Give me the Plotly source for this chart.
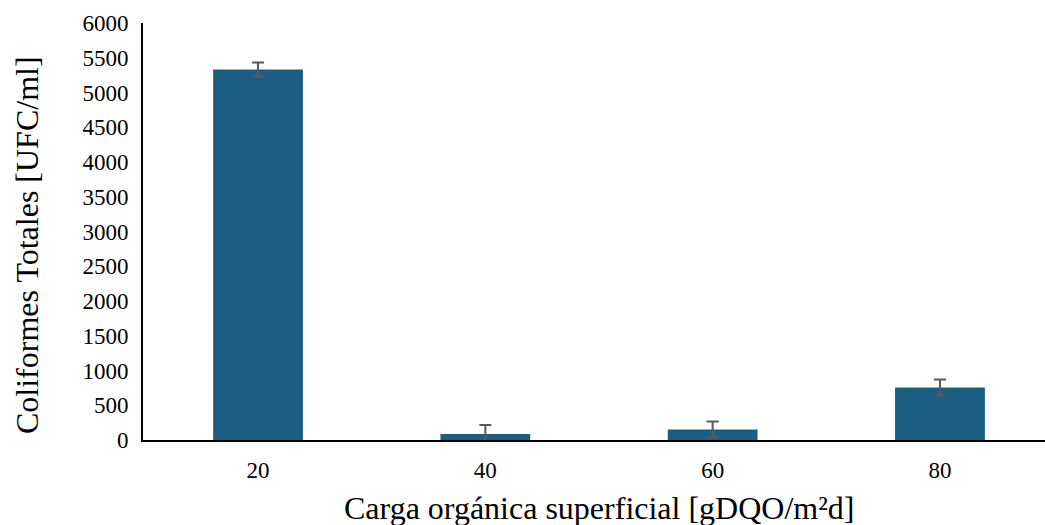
import plotly.graph_objects as go

carga = [20, 40, 60, 80]
coliformes = [5330, 85, 150, 755]
error = [100, 130, 115, 115]
tick_vals_y = [0, 500, 1000, 1500, 2000, 2500, 3000, 3500, 4000, 4500, 5000, 5500, 6000]

x_title = "Carga orgánica superficial [gDQO/m²d]"
y_title = "Coliformes Totales [UFC/ml]"

fig = go.Figure()
fig.add_trace(go.Bar(
    x=carga, y=coliformes, width=7.9,
    marker=dict(color="#1a5e81", line=dict(width=0)),
    error_y=dict(type="data", array=error, visible=True, color="#595959", thickness=2, width=6),
))

font_family = "Liberation Serif, Times New Roman, serif"
fig.update_layout(
    width=1045, height=525,
    margin=dict(l=143, r=0, t=23, b=85, autoexpand=False),
    paper_bgcolor="white", plot_bgcolor="white",
    showlegend=False,
    font=dict(family=font_family, color="black"),
    xaxis=dict(
        range=[9.88, 89.24], tickvals=carga, ticktext=[str(c) for c in carga],
        showgrid=False, zeroline=False, showline=True, linecolor="black", linewidth=2,
        ticks="", tickfont=dict(size=23, family=font_family, color="black"),
        ticklabelstandoff=8, automargin=False,
    ),
    yaxis=dict(
        range=[0, 6000], tickvals=tick_vals_y,
        showgrid=False, zeroline=False, showline=True, linecolor="black", linewidth=2,
        ticks="", tickfont=dict(size=23, family=font_family, color="black"),
        ticklabelstandoff=8, automargin=False,
    ),
    annotations=[
        dict(text=x_title, xref="paper", yref="paper", x=0.5 + (599 - 594) / 902, y=(440 - 508) / 417,
             xanchor="center", yanchor="middle", showarrow=False,
             font=dict(size=32, family=font_family, color="black")),
        dict(text=y_title, xref="paper", yref="paper", x=(27 - 143) / 902, y=(440 - 245) / 417,
             xanchor="center", yanchor="middle", textangle=-90, showarrow=False,
             font=dict(size=32, family=font_family, color="black")),
    ],
)
fig.write_html("out.html", config={"displayModeBar": False},
               post_script="document.body.style.margin='0';document.body.style.overflow='hidden';")
